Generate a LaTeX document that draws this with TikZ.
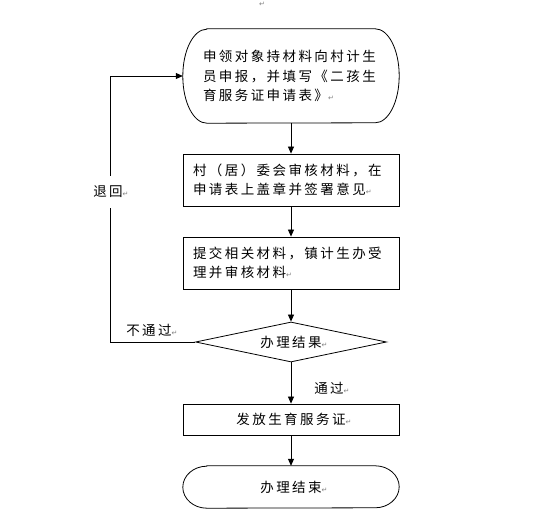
\documentclass[tikz,border=0pt]{standalone}
\usepackage{fontspec}
\setmainfont[LetterSpace=18]{Noto Sans CJK SC}
\newfontfamily\markfont{DejaVu Sans}
\newcommand\retmark{{\markfont\fontsize{7}{7}\selectfont\textcolor{gray}{↵}}}
\usetikzlibrary{arrows.meta,shapes.geometric}
\tikzset{
  base/.style={font=\fontsize{13.5}{19.5}\selectfont, inner sep=0pt},
  boxtext/.style={base, align=left, inner xsep=10pt, minimum width=216pt, text width=196pt},
  plainbox/.style={base, draw, line width=0.8pt, align=center, minimum width=216pt},
  border/.style={draw, line width=0.8pt},
  conn/.style={line width=0.8pt, -{Triangle[width=6pt,length=7pt]}},
  lbl/.style={base}
}
\begin{document}
\begin{tikzpicture}[x=1pt,y=-1pt]
\useasboundingbox (0,0) rectangle (542,518);
\node[lbl] (topmark) at (262,4) {\retmark};
% top terminal
\node[boxtext, inner xsep=20pt, text width=176pt, minimum height=94pt] (b1) at (291,76)
  {申领对象持材料向村计生\\员申报，并填写《二孩生\\育服务证申请表》\retmark};
\draw[border] ([xshift=24pt]b1.north west) -- ([xshift=-24pt]b1.north east)
  arc[start angle=90,end angle=-90,x radius=24pt,y radius=47pt]
  -- ([xshift=24pt]b1.south west)
  arc[start angle=270,end angle=90,x radius=24pt,y radius=47pt] -- cycle;
\node[boxtext, draw, line width=0.8pt, minimum height=52pt] (b2) at (291,180)
  {村（居）委会审核材料，在\\申请表上盖章并签署意见\retmark};
\node[boxtext, draw, line width=0.8pt, minimum height=52pt] (b3) at (291,263)
  {提交相关材料，镇计生办受\\理并审核材料\retmark};
\node[base, draw, line width=0.8pt, diamond, aspect=4.8, minimum width=191pt, minimum height=40pt] (dec) at (291,342)
  {办理结果\rlap{\retmark}};
\node[plainbox, minimum height=31pt] (b4) at (291,419.5) {发放生育服务证\rlap{\retmark}};
\node[base, minimum width=216pt, minimum height=42pt] (end) at (291,487) {办理结束\rlap{\retmark}};
\draw[border] ([xshift=24pt]end.north west) -- ([xshift=-24pt]end.north east)
  arc[start angle=90,end angle=-90,x radius=24pt,y radius=21pt]
  -- ([xshift=24pt]end.south west)
  arc[start angle=270,end angle=90,x radius=24pt,y radius=21pt] -- cycle;
% connectors
\draw[conn] (b1) -- (b2);
\draw[conn] (b2) -- (b3);
\draw[conn] (b3) -- (dec);
\draw[conn] (dec) -- (b4);
\draw[conn] (b4) -- (end);
\draw[conn] (dec.west) -- ++(-85,0) coordinate (lc) |- (b1.west);
\node[lbl, fill=white, inner xsep=1pt, inner ysep=10pt] (back) at (108,192) {退回\rlap{\retmark}};
\node[lbl] (fail) at (149,330) {不通过\rlap{\retmark}};
\node[lbl] (pass) at (329,388) {通过\rlap{\retmark}};
\end{tikzpicture}
\end{document}
